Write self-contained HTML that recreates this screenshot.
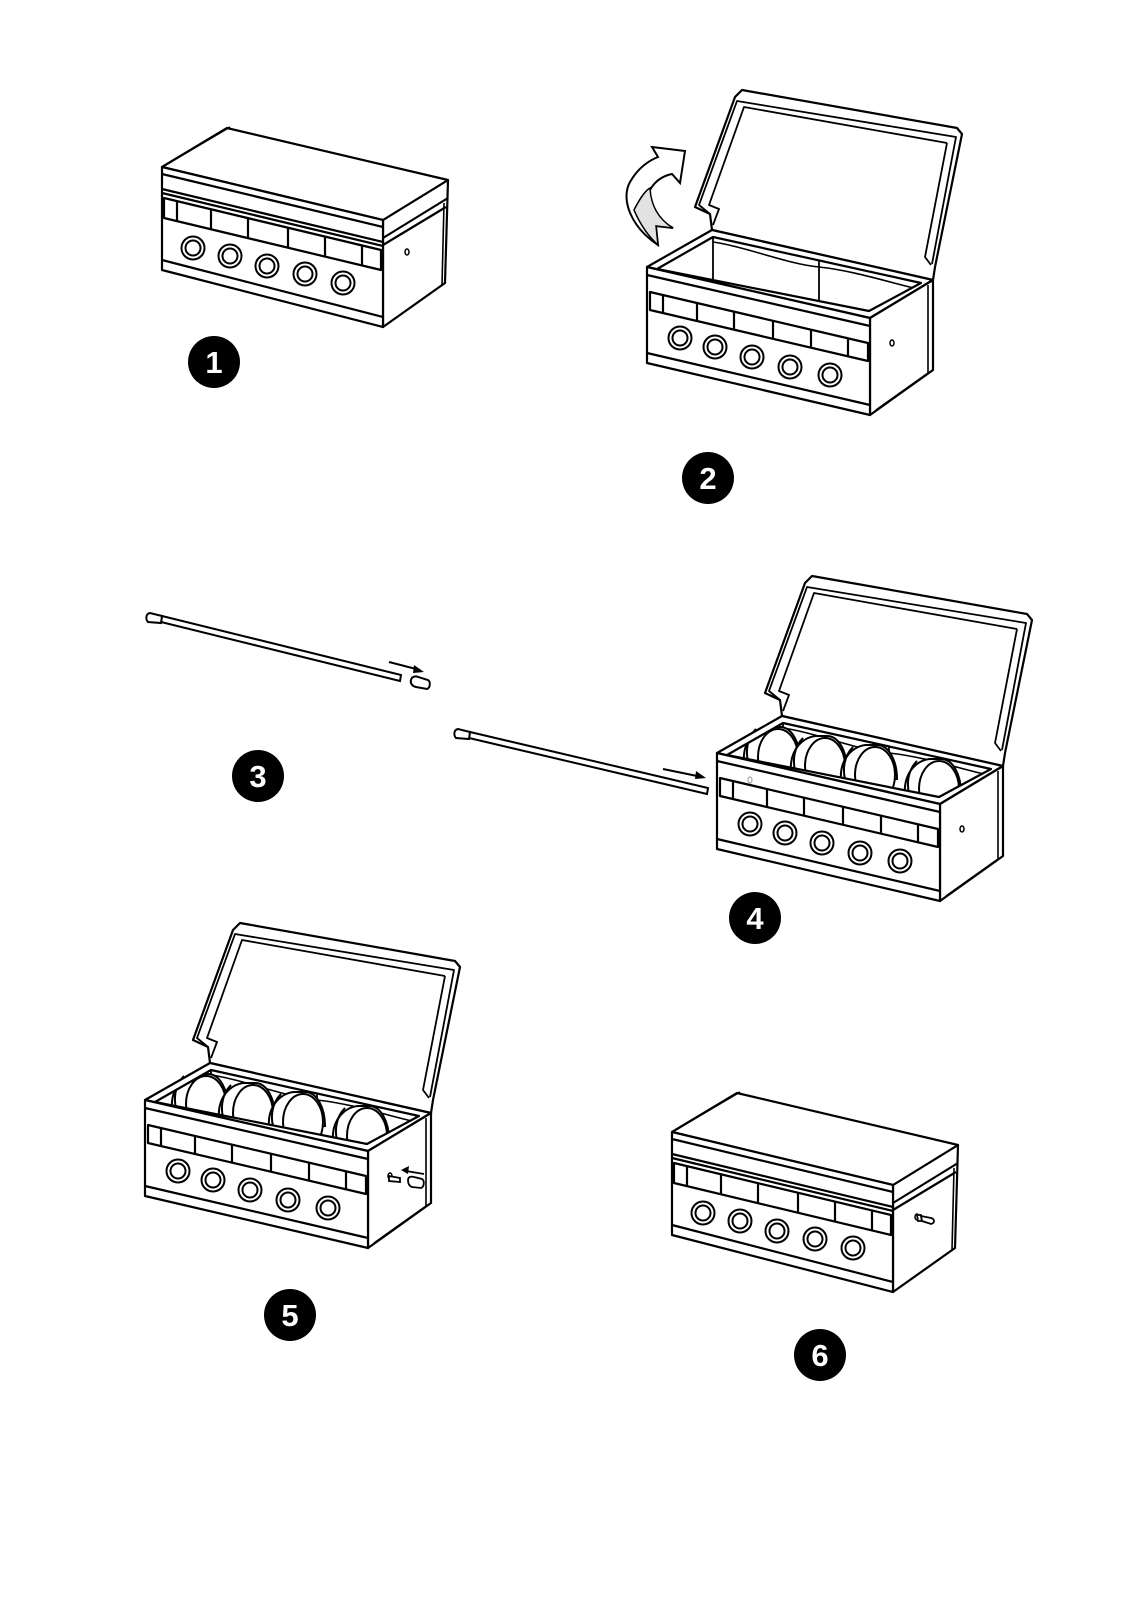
<!DOCTYPE html>
<html><head><meta charset="utf-8"><style>
html,body{margin:0;padding:0;background:#fff;}
svg{display:block;}
text{font-family:"Liberation Sans",sans-serif;font-weight:bold;fill:#fff;}
</style></head><body>
<svg width="1131" height="1600" viewBox="0 0 1131 1600" xmlns="http://www.w3.org/2000/svg">
<defs>
<g id="strip" fill="none" stroke="#000" stroke-width="2">
  <circle cx="0" cy="0" r="11.5" fill="#fff"/><circle cx="0" cy="0" r="7.5"/>
</g>
<g id="closed" stroke="#000" stroke-width="2.2" stroke-linejoin="round" fill="#fff">
  <path d="M221,53 L286,13 L283,116 L221,160 Z"/>
  <path d="M221,71 L286,31" fill="none"/>
  <path d="M221,78 L284,40" fill="none"/>
  <path d="M228,155 L280,118 L282,36" fill="none" stroke-width="1.6"/>
  <path d="M0,0 L65,-39 L286,13 L221,53 Z"/>
  <path d="M5,-3 L68,-40" fill="none" stroke-width="1.6"/>
  <path d="M0,0 L221,53 L221,160 L0,103 Z"/>
  <path d="M0,7 L221,60" fill="none"/>
  <path d="M0,22 L221,75" fill="none"/>
  <path d="M0,26 L221,79" fill="none"/>
  <path d="M0,93 L221,150" fill="none"/>
  <path d="M2,31 L219,83 L219,103 L2,51 Z" fill="none"/>
  <path d="M15,34 V54 M49,42 V62 M86,51 V71 M126,61 V81 M163,70 V90 M200,78 V98" fill="none"/>
  <use href="#strip" x="31" y="81"/><use href="#strip" x="68" y="89"/><use href="#strip" x="105" y="99"/>
  <use href="#strip" x="143" y="107"/><use href="#strip" x="181" y="116"/>
  <ellipse cx="245" cy="85" rx="2" ry="3" fill="none" stroke-width="1.5"/>
</g>
<g id="lidbox" stroke="#000" stroke-width="2.2" stroke-linejoin="round" fill="#fff">
  <path d="M65,-37 L63,-53 L48,-60 L88,-170 L95,-177 L310,-139 L315,-133 L288,0 L286,13 Z"/>
  <path d="M63,-53 L52,-62 L90,-166 L309,-130 L285,-3" fill="none" stroke-width="1.8"/>
  <path d="M66,-42 L72,-58 L62,-62 L97,-160 L300,-124" fill="none" stroke-width="1.8"/>
  <path d="M300,-124 L278,-10 L284,-2" fill="none" stroke-width="1.8"/>
  <path d="M65,-37 L286,13 L286,40 L65,20 Z" stroke="none"/>
  <path d="M66,-37 V16" fill="none" stroke-width="1.8"/>
  <path d="M172,-12 V40" fill="none" stroke-width="1.8"/>
  <path d="M66,-30 C100,-28 140,-10 172,-8 C210,-5 250,10 280,18" fill="none" stroke-width="1.6"/>
  <path d="M66,-25 C100,-20 140,-3 172,0 C210,4 250,18 280,24" fill="none" stroke-width="1.6"/>
</g>
<g id="lidfront" stroke="#000" stroke-width="2.2" stroke-linejoin="round" fill="#fff">
  <path d="M0,0 L65,-37 L286,13 L223,51 Z M10,2 L66,-30 L274,16 L222,44 Z" fill-rule="evenodd"/>
  <path d="M223,51 L286,13 L286,103 L223,148 Z"/>
  <path d="M229,143 L281,106 L281,18" fill="none" stroke-width="1.6"/>
  <path d="M0,0 L223,51 L223,148 L0,96 Z"/>
  <path d="M0,8 L223,59" fill="none"/>
  <path d="M0,86 L223,138" fill="none"/>
  <path d="M3,25 L221,76 L221,94 L3,43 Z" fill="none"/>
  <path d="M16,28 V46 M50,36 V54 M87,45 V63 M126,54 V72 M164,63 V81 M201,72 V90" fill="none"/>
  <use href="#strip" x="33" y="71"/><use href="#strip" x="68" y="80"/><use href="#strip" x="105" y="90"/>
  <use href="#strip" x="143" y="100"/><use href="#strip" x="183" y="108"/>
  <ellipse cx="245" cy="76" rx="2" ry="3" fill="none" stroke-width="1.5"/>
</g>
<g id="disc" stroke="#000" stroke-width="2" fill="#fff">
  <path d="M-34,10 C-36,-14 -20,-26 -8,-26 L2,-26 C14,-26 22,-10 22,8 L-34,10 Z"/>
  <ellipse cx="0" cy="4" rx="20" ry="28"/>
  <path d="M-22,-24 C-32,-14 -32,0 -30,8" fill="none"/>
  <ellipse cx="4" cy="26" rx="4" ry="5"/>
</g>
<g id="discs">
  <use href="#disc" x="61" y="0"/><use href="#disc" x="108" y="9"/>
  <use href="#disc" x="158" y="18"/><use href="#disc" x="222" y="32"/>
</g>
<g id="num"><circle r="26" fill="#000"/></g>
</defs>

<use href="#closed" x="162" y="167"/>
<use href="#num" x="214" y="362"/><text x="214" y="373" font-size="31" text-anchor="middle">1</text>

<g transform="translate(647,267)"><use href="#lidbox"/><use href="#lidfront"/></g>
<path d="M658,157 L652,147 L685,151 L680,183 L672,174 C657,177 646,190 648,202 C651,215 662,222 673,228 L656,226 L658,245 C632,228 620,200 630,182 C638,168 648,161 658,157 Z" fill="#fff" stroke="#000" stroke-width="2"/>
<path d="M634,210 C640,198 646,190 650,188 C651,208 660,220 673,228 L656,226 L658,245 C648,236 640,224 634,210 Z" fill="#e2e2e2" stroke="#000" stroke-width="1.5"/>
<use href="#num" x="708" y="478"/><text x="708" y="489" font-size="31" text-anchor="middle">2</text>

<g stroke="#000" stroke-width="2" fill="#fff">
  <path d="M162,616 L401,675 L400,681 L161,622 Z"/>
  <path d="M162,616 L150,613 C145,614 146,620 148,622 L161,623 Z"/>
  <path d="M411,680 C412,676 416,676 418,677 L428,680 C431,682 430,688 427,689 L416,687 C412,686 410,683 411,680 Z"/>
</g>
<path d="M389,662 L420,670" stroke="#000" stroke-width="2"/><path d="M424,672 L414,665 L413,673 Z" fill="#000"/>
<use href="#num" x="258" y="776"/><text x="258" y="787" font-size="31" text-anchor="middle">3</text>

<g stroke="#000" stroke-width="2" fill="#fff">
  <path d="M470,732 L708,788 L707,794 L469,738 Z"/>
  <path d="M470,732 L458,729 C453,730 454,736 456,738 L469,739 Z"/>
</g>
<path d="M663,769 L702,777" stroke="#000" stroke-width="2"/><path d="M706,778 L696,771 L695,779 Z" fill="#000"/>
<g transform="translate(717,753)"><use href="#lidbox"/><use href="#discs"/><use href="#lidfront"/></g>
<ellipse cx="750" cy="780" rx="2" ry="3" fill="none" stroke="#aaa" stroke-width="1.2"/>
<use href="#num" x="755" y="918"/><text x="755" y="929" font-size="31" text-anchor="middle">4</text>

<g transform="translate(145,1100)"><use href="#lidbox"/><use href="#discs"/><use href="#lidfront"/></g>
<g stroke="#000" stroke-width="1.8" fill="#fff">
  <path d="M389,1176 L400,1178 L400,1182 L389,1181 Z"/>
  <path d="M408,1180 C408,1177 411,1176 414,1177 L422,1179 C425,1181 424,1187 421,1188 L412,1187 C409,1186 408,1183 408,1180 Z"/>
</g>
<path d="M424,1174 L406,1171" stroke="#000" stroke-width="1.8"/><path d="M401,1170 L409,1166 L408,1174 Z" fill="#000"/>
<use href="#num" x="290" y="1315"/><text x="290" y="1326" font-size="31" text-anchor="middle">5</text>

<use href="#closed" x="672" y="1132"/>
<g stroke="#000" stroke-width="1.8" fill="#fff">
  <path d="M917,1215 L921,1215 L922,1221 L918,1221 Z"/>
  <path d="M921,1216 L931,1218 C935,1219 935,1223 931,1224 L922,1221 Z"/>
</g>
<use href="#num" x="820" y="1355"/><text x="820" y="1366" font-size="31" text-anchor="middle">6</text>
</svg>
</body></html>
